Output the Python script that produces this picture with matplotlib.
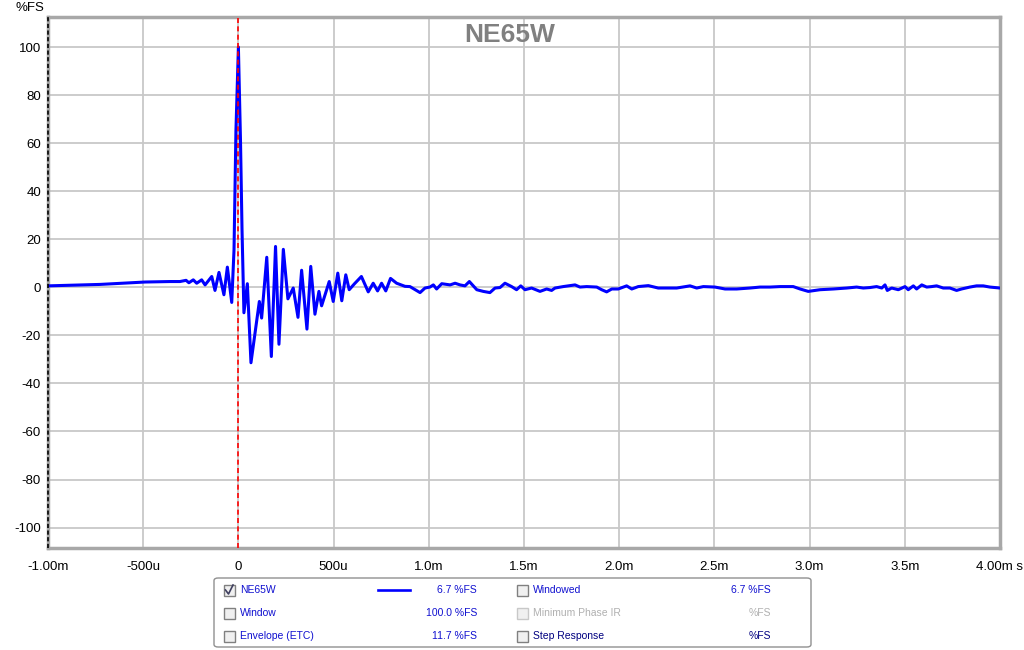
import matplotlib
matplotlib.use('Agg')
import matplotlib.pyplot as plt
from matplotlib.patches import Rectangle, FancyBboxPatch
from matplotlib.lines import Line2D

# impulse response, time in ms, amplitude in %FS
time_ms = [-1.000, -0.727, -0.490, -0.359, -0.307, -0.275, -0.260, -0.237, -0.219, -0.193,
           -0.175, -0.140, -0.123, -0.102, -0.076, -0.058, -0.035, -0.023, -0.013, 0.000,
           0.011, 0.019, 0.029, 0.047, 0.066, 0.110, 0.122, 0.149, 0.173, 0.195,
           0.213, 0.236, 0.260, 0.288, 0.313, 0.332, 0.360, 0.380, 0.402, 0.423,
           0.437, 0.477, 0.498, 0.522, 0.543, 0.564, 0.582, 0.610, 0.646, 0.682,
           0.708, 0.731, 0.752, 0.774, 0.799, 0.831, 0.875, 0.901, 0.954, 0.980,
           1.006, 1.024, 1.041, 1.068, 1.112, 1.138, 1.164, 1.190, 1.213, 1.252,
           1.286, 1.321, 1.348, 1.374, 1.400, 1.435, 1.461, 1.483, 1.505, 1.540,
           1.584, 1.619, 1.645, 1.663, 1.706, 1.768, 1.794, 1.829, 1.882, 1.908,
           1.934, 1.961, 1.995, 2.039, 2.066, 2.100, 2.153, 2.205, 2.249, 2.302,
           2.372, 2.407, 2.442, 2.503, 2.556, 2.617, 2.687, 2.740, 2.792, 2.845,
           2.914, 2.950, 2.993, 3.055, 3.125, 3.195, 3.247, 3.282, 3.317, 3.352,
           3.379, 3.396, 3.408, 3.431, 3.466, 3.501, 3.518, 3.545, 3.562, 3.589,
           3.615, 3.641, 3.667, 3.702, 3.737, 3.772, 3.798, 3.842, 3.877, 3.912,
           3.947, 4.000]
level = [0.6, 1.2, 2.2, 2.4, 2.4, 2.9, 1.9, 3.1, 1.7, 3.1,
         1.0, 4.5, -1.3, 6.2, -3.1, 8.4, -6.3, 15.6, 65.0, 100.0,
         61.0, 24.0, -10.6, 1.5, -31.4, -5.9, -12.8, 12.5, -28.8, 17.0,
         -23.7, 15.8, -4.8, -0.3, -12.5, 7.1, -17.4, 8.7, -11.2, -1.7,
         -7.7, 2.4, -5.9, 5.9, -5.6, 5.2, -1.0, 1.5, 4.5, -1.9,
         1.7, -1.5, 1.7, -1.5, 3.7, 1.7, 0.4, 0.3, -2.2, -0.3,
         0.1, 1.0, -0.7, 1.5, 1.0, 1.7, 1.0, 0.6, 2.4, -1.0,
         -1.7, -2.2, -0.3, -0.1, 1.7, 0.3, -1.0, 0.6, -1.0, -0.3,
         -1.7, -0.7, -1.3, -0.3, 0.3, 1.0, 0.1, 0.3, 0.1, -1.0,
         -1.9, -0.7, -0.7, 0.6, -0.7, 0.3, 0.7, -0.3, -0.3, -0.3,
         0.6, -0.3, 0.3, 0.1, -0.7, -0.7, -0.3, 0.1, 0.1, 0.3,
         0.3, -0.7, -1.7, -1.0, -0.7, -0.3, 0.1, -0.3, -0.1, 0.3,
         -0.3, 1.0, -1.3, -0.3, -1.0, 0.3, -1.0, 0.6, -0.7, 1.0,
         0.1, 0.3, 0.6, -0.3, -0.3, -1.3, -0.7, 0.1, 0.6, 0.6,
         0.1, -0.3]

x_ticks = [-1.0, -0.5, 0.0, 0.5, 1.0, 1.5, 2.0, 2.5, 3.0, 3.5, 4.0]
x_labels = ['-1.00m', '-500u', '0', '500u', '1.0m', '1.5m', '2.0m', '2.5m', '3.0m', '3.5m', '4.00m s']
y_ticks = [-100, -80, -60, -40, -20, 0, 20, 40, 60, 80, 100]

legend_rows = [
    ('NE65W', '6.7 %FS', True, 'Windowed', '6.7 %FS', True),
    ('Window', '100.0 %FS', True, 'Minimum Phase IR', '%FS', False),
    ('Envelope (ETC)', '11.7 %FS', True, 'Step Response', '%FS', True),
]

plt.rcParams['font.family'] = ['Liberation Sans', 'DejaVu Sans']
plt.rcParams['axes.unicode_minus'] = False

W, H = 1024, 650
fig = plt.figure(figsize=(W / 100, H / 100), dpi=100)


def fx(px):
    return px / W


def fy(py):
    return 1 - py / H


ax = fig.add_axes([fx(48), fy(548), fx(1000) - fx(48), fy(17) - fy(548)])
ax.plot(time_ms, level, color='#0000ff', lw=2.2, solid_joinstyle='round',
        solid_capstyle='round', zorder=3)
ax.axvline(0, color='#ff0000', lw=1.2, ls=(0, (3, 2)), zorder=4)
ax.axvline(-1.0, color='black', lw=1.2, ls=(0, (2.5, 1.5)), zorder=5, clip_on=False)

ax.set_xlim(-1.0, 4.0)
ax.set_ylim(-108.5, 112.5)
ax.set_xticks(x_ticks)
ax.set_xticklabels(x_labels)
ax.set_yticks(y_ticks)
ax.grid(True, color='#c8c8c8', lw=1.3)
ax.set_axisbelow(True)
ax.tick_params(length=0, labelsize=9.5, colors='black')
ax.tick_params(axis='x', pad=9)
ax.tick_params(axis='y', pad=5)
for s in ax.spines.values():
    s.set_color('#a8a8a8')
    s.set_linewidth(2.5)

ax.text(0.485, 0.988, 'NE65W', transform=ax.transAxes, ha='center', va='top',
        fontsize=19, fontweight='bold', color='#808080')
fig.text(fx(30), fy(8), '%FS', ha='center', va='center', fontsize=9.5)

# legend panel
fig.patches.append(FancyBboxPatch((fx(214), fy(647)), fx(811) - fx(214), fy(578) - fy(647),
                                  boxstyle='round,pad=0,rounding_size=0.004',
                                  transform=fig.transFigure, fc='white', ec='#909090', lw=1.0))

row_y = [590, 613, 636]
blue = '#1010d0'
for i, (l1, v1, on1, l2, v2, on2) in enumerate(legend_rows):
    y = row_y[i]
    for cx, lab, val, en, vx in [(229, l1, v1, on1, 477), (522, l2, v2, on2, 771)]:
        col = blue if en else '#b0b0b0'
        if lab == 'Step Response':
            col = '#000080'
        ec = '#808080' if en else '#c8c8c8'
        fig.patches.append(Rectangle((fx(cx - 5.5), fy(y + 5.5)), fx(11), 11 / H,
                                     transform=fig.transFigure, fc='#f0f0f0', ec=ec, lw=1.0))
        fig.text(fx(cx + 11), fy(y), lab, ha='left', va='center', fontsize=7.5, color=col)
        fig.text(fx(vx), fy(y), val, ha='right', va='center', fontsize=7.5, color=col)

# checkmark and line sample for the visible trace
fig.lines.append(Line2D([fx(225.5), fx(228.5), fx(233)], [fy(590), fy(594), fy(585)],
                        transform=fig.transFigure, color='#404060', lw=1.2))
fig.lines.append(Line2D([fx(378), fx(410)], [fy(590), fy(590)],
                        transform=fig.transFigure, color='#0000ff', lw=1.9))

plt.savefig('out.png', dpi=100)
